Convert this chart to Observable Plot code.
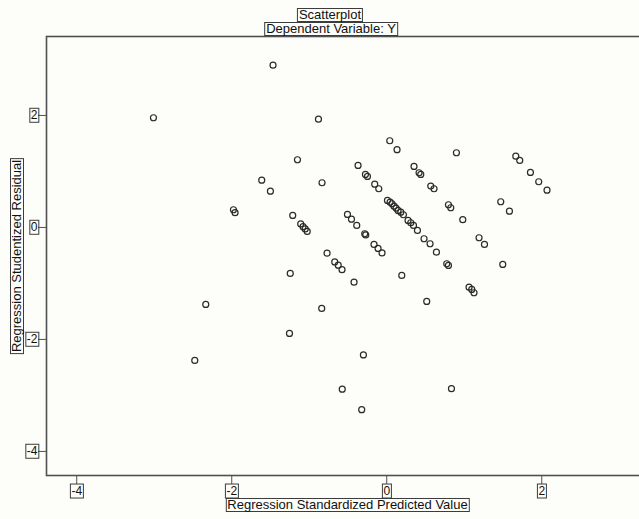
<!DOCTYPE html>
<html>
<head>
<meta charset="utf-8">
<script src="https://cdn.jsdelivr.net/npm/d3@7"></script>
<script src="https://cdn.jsdelivr.net/npm/@observablehq/plot@0.6"></script>
<style>
  html, body { margin: 0; padding: 0; background: #fdfdf9; }
  #wrap { position: relative; width: 639px; height: 519px; overflow: hidden; }
  #wrap svg { position: absolute; left: 0; top: 0; }
  .lab {
    position: absolute;
    border: 1px solid #3c3c3c;
    font-family: 'Liberation Sans', Arial, sans-serif;
    font-size: 13px;
    line-height: 12px;
    padding: 0 1px;
    white-space: nowrap;
    color: #111;
    box-sizing: content-box;
  }
</style>
</head>
<body>
<div id="wrap">
  <div class="lab" id="title" style="left:330px; top:8px; transform:translateX(-50%);"></div>
  <div class="lab" id="subtitle" style="left:331px; top:22px; transform:translateX(-50%);"></div>
  <div class="lab" id="xlabel" style="left:347.5px; top:498px; transform:translateX(-50%);"></div>
  <div class="lab" id="ylabel" style="left:16.5px; top:255.5px; transform:translate(-50%,-50%) rotate(-90deg);"></div>
</div>
<script>
// Chart text
const titleText = "Scatterplot";
const subtitleText = "Dependent Variable: Y";
const xLabelText = "Regression Standardized Predicted Value";
const yLabelText = "Regression Studentized Residual";

// Tick values
const xTicks = [-4, -2, 0, 2];
const yTicks = [-4, -2, 0, 2];

// Regression Standardized Predicted Value
const predicted = [
  -1.467, -3.010, -0.881, 0.039, 0.133, 0.899, -1.152, 1.665, 1.716, -0.370,
  0.352, 0.417, 0.439, 1.854, -0.275, -0.249, -0.155, -0.103, 0.568, 0.610,
  1.961, 2.068, -1.613, -0.835, -1.501, 1.471, 1.583, 0.009, 0.043, 0.068,
  0.094, 0.120, 0.146, 0.181, 0.215, 0.275, 0.310, 0.345, 0.396, 0.481,
  0.559, 0.641, 0.796, 0.826, 0.981, 1.191, 1.261, -0.507, -0.455, -0.387,
  -0.284, -0.271, -0.164, -0.112, -0.061, -0.770, -0.671, -0.626, -0.577, 0.194,
  -0.422, 0.774, 0.796, 1.497, 1.062, 1.097, 1.126, 0.516, -1.978, -1.957,
  -1.213, -1.110, -1.080, -1.052, -1.026, -1.245, -2.335, -0.839, -1.255, -0.301,
  -2.477, -0.574, 0.835, -0.323
];

// Regression Studentized Residual
const residual = [
  2.898, 1.959, 1.934, 1.548, 1.388, 1.334, 1.209, 1.273, 1.196, 1.107,
  1.089, 0.977, 0.946, 0.982, 0.946, 0.911, 0.773, 0.691, 0.738, 0.691,
  0.816, 0.666, 0.845, 0.798, 0.648, 0.459, 0.291, 0.482, 0.452, 0.423,
  0.380, 0.345, 0.304, 0.273, 0.227, 0.125, 0.084, 0.036, -0.054, -0.202,
  -0.291, -0.441, 0.405, 0.352, 0.138, -0.184, -0.304, 0.232, 0.148, 0.036,
  -0.113, -0.134, -0.304, -0.375, -0.455, -0.459, -0.616, -0.673, -0.755, -0.857,
  -0.977, -0.648, -0.679, -0.661, -1.066, -1.107, -1.166, -1.321, 0.316, 0.263,
  0.214, 0.063, 0.013, -0.027, -0.071, -0.821, -1.375, -1.446, -1.893, -2.277,
  -2.375, -2.888, -2.880, -3.255
];

const points = predicted.map((x, i) => ({x, y: residual[i]}));

document.getElementById("title").textContent = titleText;
document.getElementById("subtitle").textContent = subtitleText;
document.getElementById("xlabel").textContent = xLabelText;
document.getElementById("ylabel").textContent = yLabelText;

const chart = Plot.plot({
  width: 639,
  height: 519,
  marginLeft: 46,
  marginRight: -2,
  marginTop: 36,
  marginBottom: 44,
  style: {
    background: "transparent",
    fontFamily: "'Liberation Sans', Arial, sans-serif",
    fontSize: "12px",
    color: "#111"
  },
  x: {domain: [-4.39, 3.287]},
  y: {domain: [-4.43, 3.41]},
  marks: [
    Plot.frame({stroke: "#505050", strokeWidth: 1.6}),
    Plot.axisX({ticks: xTicks, tickSize: 9, tickPadding: 2, label: null,
                stroke: "#505050", tickFormat: d => String(d)}),
    Plot.axisY({ticks: yTicks, tickSize: 8, tickPadding: 1, label: null,
                stroke: "#505050", tickFormat: d => String(d)}),
    Plot.dot(points, {x: "x", y: "y", r: 3, stroke: "#2a2a2a", strokeWidth: 1.2, fill: "none"})
  ]
});

const wrap = document.getElementById("wrap");
wrap.insertBefore(chart, wrap.firstChild);

// Box every tick label, as in the original export
d3.select(chart).selectAll('g[aria-label$="tick label"] text').each(function() {
  const b = this.getBBox();
  const rect = document.createElementNS("http://www.w3.org/2000/svg", "rect");
  rect.setAttribute("x", b.x - 1);
  rect.setAttribute("y", b.y);
  rect.setAttribute("width", b.width + 2);
  rect.setAttribute("height", b.height);
  rect.setAttribute("fill", "none");
  rect.setAttribute("stroke", "#3c3c3c");
  rect.setAttribute("stroke-width", 1);
  const t = this.getAttribute("transform");
  if (t) rect.setAttribute("transform", t);
  this.parentNode.insertBefore(rect, this);
});
</script>
</body>
</html>
